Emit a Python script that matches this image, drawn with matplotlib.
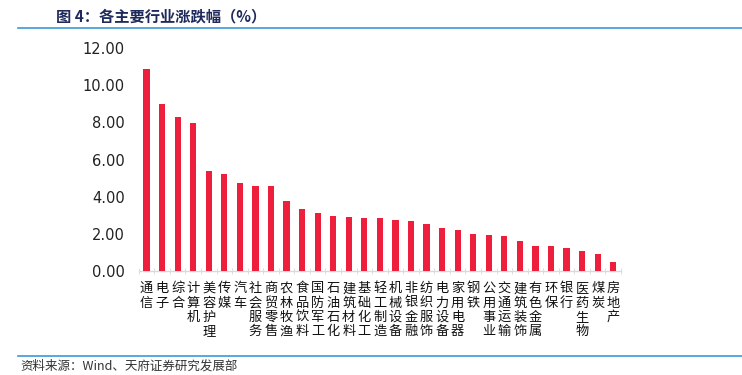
import numpy as np
import matplotlib
matplotlib.use("Agg")
import matplotlib.pyplot as plt
from matplotlib.lines import Line2D

plt.rcParams['font.family'] = ['Noto Sans CJK SC', 'DejaVu Sans']

# 行业名称
industries = ["通信", "电子", "综合", "计算机", "美容护理", "传媒", "汽车", "社会服务",
              "商贸零售", "农林牧渔", "食品饮料", "国防军工", "石油石化", "建筑材料",
              "基础化工", "轻工制造", "机械设备", "非银金融", "纺织服饰", "电力设备",
              "家用电器", "钢铁", "公用事业", "交通运输", "建筑装饰", "有色金属",
              "环保", "银行", "医药生物", "煤炭", "房地产"]
# 涨跌幅(%)
changes = [10.87, 8.99, 8.29, 7.97, 5.38, 5.20, 4.74, 4.59, 4.59, 3.75, 3.32,
           3.11, 2.95, 2.93, 2.88, 2.84, 2.77, 2.70, 2.52, 2.30, 2.19, 1.98,
           1.92, 1.87, 1.63, 1.35, 1.33, 1.26, 1.06, 0.93, 0.50]
yticks = [0, 2, 4, 6, 8, 10, 12]

fig = plt.figure(figsize=(7.42, 3.75), dpi=100)
ax = fig.add_axes([0.187, 0.277, 0.650, 0.595])

x = np.arange(len(industries))
ax.bar(x, changes, width=0.4, color="#EE1F3D", zorder=3)

ax.set_xlim(-0.5, len(industries) - 0.5)
ax.set_ylim(0, 12)
ax.set_yticks(yticks)
ax.set_yticklabels(["%.2f" % v for v in yticks], fontsize=10.5, color="#222222",
                   family="DejaVu Sans")
ax.tick_params(axis="y", length=0, pad=10)

# 竖排行业名称
ax.set_xticks(x)
ax.set_xticklabels(["\n".join(n) for n in industries], fontsize=9.5,
                   color="#111111", va="top", linespacing=1.13)
ax.tick_params(axis="x", which="major", length=0, pad=8)
ax.set_xticks(np.arange(len(industries) + 1) - 0.5, minor=True)
ax.tick_params(axis="x", which="minor", length=4, direction="inout", color="#D9D9D9")

for s in ["top", "right", "left"]:
    ax.spines[s].set_visible(False)
ax.spines["bottom"].set_color("#D9D9D9")
ax.spines["bottom"].set_linewidth(1.0)

# 标题和来源
fig.text(0.075, 0.955, "图 4：各主要行业涨跌幅（%）", fontsize=11, fontweight="bold",
         color="#1F2A5C", ha="left", va="center")
fig.add_artist(Line2D([0.024, 1.0], [0.925, 0.925], color="#3A9AD9", lw=1.2))
fig.add_artist(Line2D([0.024, 1.0], [0.052, 0.052], color="#3A9AD9", lw=1.2))
fig.text(0.027, 0.024, "资料来源：Wind、天府证券研究发展部", fontsize=9,
         color="#333333", ha="left", va="center")

fig.savefig("out.png", dpi=100)
